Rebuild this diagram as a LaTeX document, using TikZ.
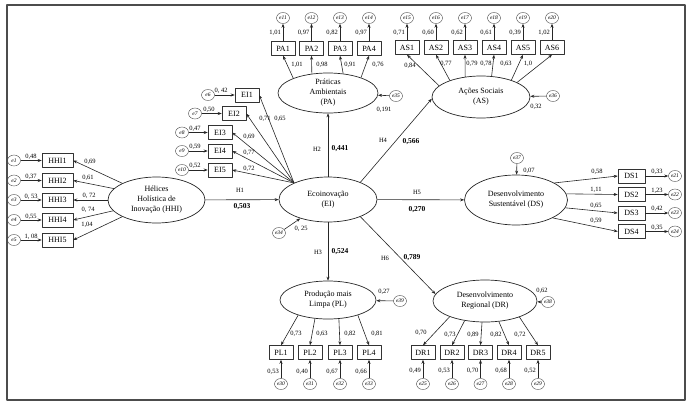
\documentclass[tikz,border=0pt]{standalone}
\usepackage{fontspec}
\setmainfont{Liberation Serif}
\usetikzlibrary{shapes.geometric,arrows.meta}
\begin{document}
\begin{tikzpicture}[x=1pt,y=-1pt, line join=round,
  ind/.style={draw=black!80, rectangle, minimum height=14pt, minimum width=24pt, inner xsep=3pt, inner ysep=0pt, font=\fontsize{8}{9}\selectfont, line width=0.5pt},
  lat/.style={draw=black!85, ellipse, inner sep=0pt, align=center, font=\fontsize{8}{10}\selectfont, line width=0.7pt},
  err/.style={draw=black!70, ellipse, minimum width=13pt, minimum height=11pt, inner sep=0pt, font=\fontsize{5.5}{6}\selectfont\itshape, line width=0.4pt},
  arr/.style={draw=black!85, -{Stealth[length=4pt,width=3pt]}, line width=0.6pt},
  lbl/.style={inner sep=0pt, font=\fontsize{6.5}{7}\selectfont},
  bl/.style={inner sep=0pt, font=\fontsize{7.5}{8}\selectfont\bfseries},
]
\useasboundingbox (0,0) rectangle (691,407);
\draw[line width=1.3pt, black!70] (7,5) rectangle (685,400);

% latent variables
\node[lat, minimum width=97pt, minimum height=46pt] (HHI) at (156.5,200) {Hélices\\Holística de\\Inovação (HHI)};
\node[lat, minimum width=98pt, minimum height=45pt] (EI) at (328,199.5) {Ecoinovação\\(EI)};
\node[lat, minimum width=100pt, minimum height=40pt] (PA) at (328,93) {Práticas\\Ambientais\\(PA)};
\node[lat, minimum width=98pt, minimum height=42pt] (AS) at (481,97) {Ações Sociais\\(AS)};
\node[lat, minimum width=103pt, minimum height=50pt] (DS) at (516,200) {Desenvolvimento\\Sustentável (DS)};
\node[lat, minimum width=96pt, minimum height=38pt] (PL) at (328,300) {Produção mais\\Limpa (PL)};
\node[lat, minimum width=104pt, minimum height=42pt] (DR) at (485,301) {Desenvolvimento\\Regional (DR)};

% HHI indicators
\foreach \i/\y/\a in {1/160.5/154,2/180.5/165,3/200/180,4/220/194,5/240/206}{
  \node[ind, minimum width=31pt] (HHI\i) at (57.5,\y) {HHI\i};
  \node[err] (e\i) at (14,\y) {e\i};
  \draw[arr] (e\i) -- (HHI\i);
  \draw[arr] (HHI.\a) -- (HHI\i.east);
}
% EI indicators
\coordinate (EIc) at (EI.154);
\foreach \i/\x/\y/\j/\ex in {1/247/95/6/208,2/234/113.5/7/195,3/220/132.5/8/182,4/220/151/9/182,5/220/170/10/182}{
  \node[ind] (EI\i) at (\x,\y) {EI\i};
  \node[err] (e\j) at (\ex,\y) {e\j};
  \draw[arr] (e\j) -- (EI\i);
  \draw[arr] (EIc) -- (EI\i.east);
}
% PA indicators
\foreach \i/\x/\a/\j in {1/283/157/11,2/311.5/130/12,3/340/52/13,4/369/25/14}{
  \node[ind] (PA\i) at (\x,48.5) {PA\i};
  \node[err] (e\j) at (\x,18) {e\j};
  \draw[arr] (PA\i) -- (e\j);
  \draw[arr] (PA.\a) -- (PA\i.south);
}
% AS indicators
\foreach \i/\x/\a/\j in {1/407/165/15,2/436/152/16,3/465/128/17,4/494/63/18,5/523/29/19,6/552/22/20}{
  \node[ind] (AS\i) at (\x,47.5) {AS\i};
  \node[err] (e\j) at (\x,18) {e\j};
  \draw[arr] (AS\i) -- (e\j);
  \draw[arr] (AS.\a) -- (AS\i.south);
}
% DS indicators
\foreach \i/\y/\a/\j in {1/176/24/21,2/194.5/7/22,3/213/351/23,4/231.5/334/24}{
  \node[ind, minimum width=27pt] (DS\i) at (631.5,\y) {DS\i};
  \node[err] (e\j) at (675,\y) {e\j};
  \draw[arr] (DS\i) -- (e\j);
  \draw[arr] (DS.\a) -- (DS\i.west);
}
% PL indicators
\foreach \i/\x/\a/\j in {1/281/207/30,2/310/235/31,3/340/300/32,4/369/333/33}{
  \node[ind] (PL\i) at (\x,352.5) {PL\i};
  \node[err] (e\j) at (\x,384) {e\j};
  \draw[arr] (e\j) -- (PL\i);
  \draw[arr] (PL.\a) -- (PL\i.north);
}
% DR indicators
\foreach \i/\x/\a/\j in {1/423/204/25,2/452/224/26,3/480.5/262/27,4/509/304/28,5/538/335/29}{
  \node[ind] (DR\i) at (\x,352.5) {DR\i};
  \node[err] (e\j) at (\x,384) {e\j};
  \draw[arr] (e\j) -- (DR\i);
  \draw[arr] (DR.\a) -- (DR\i.north);
}

% latent errors
\node[err] (e34) at (279,233) {e34};
\node[err] (e35) at (396,96) {e35};
\node[err] (e36) at (553,96) {e36};
\node[err] (e37) at (517,158) {e37};
\node[err] (e38) at (548,302) {e38};
\node[err] (e39) at (400,301) {e39};
\draw[arr] (e34) -- (EI);
\draw[arr] (e35) -- (PA);
\draw[arr] (e36) -- (AS);
\draw[arr] (e37) -- (DS);
\draw[arr] (e38) -- (DR);
\draw[arr] (e39) -- (PL);

% structural paths
\draw[arr] (HHI) -- (EI);
\draw[arr] (EI) -- (PA);
\draw[arr] (EI) -- (PL);
\draw[arr] (EI.28) -- (AS.182);
\draw[arr] (EI) -- (DS);
\draw[arr] (EI.332) -- (DR.172);

\node[lbl] (tH1) at (240,190) {H1};
\node[bl] (vH1) at (242,207) {0,503};
\node[lbl] (tH2) at (317,149) {H2};
\node[bl] (vH2) at (340,149) {0,441};
\node[lbl] (tH3) at (318,252) {H3};
\node[bl] (vH3) at (340,252) {0,524};
\node[lbl] (tH4) at (383,140) {H4};
\node[bl] (vH4) at (411,142) {0,566};
\node[lbl] (tH5) at (417,192) {H5};
\node[bl] (vH5) at (417,210) {0,270};
\node[lbl] (tH6) at (385,258) {H6};
\node[bl] (vH6) at (412,258) {0,789};

% HHI labels
\node[lbl] (la1) at (31,157) {0,48};
\node[lbl] (la2) at (31,177) {0,37};
\node[lbl] (la3) at (31,196.5) {0, 53};
\node[lbl] (la4) at (31,216.5) {0,55};
\node[lbl] (la5) at (31,236.5) {1, 08};
\node[lbl] (lb1) at (90,162) {0,69};
\node[lbl] (lb2) at (88,178) {0,61};
\node[lbl] (lb3) at (89,196) {0, 72};
\node[lbl] (lb4) at (88,209.5) {0, 74};
\node[lbl] (lb5) at (87,225) {1,04};
% EI labels
\node[lbl] (lc1) at (221,91) {0, 42};
\node[lbl] (lc2) at (209,109.5) {0,50};
\node[lbl] (lc3) at (195,128.5) {0,47};
\node[lbl] (lc4) at (195,147) {0,59};
\node[lbl] (lc5) at (195,166) {0,52};
\node[lbl] (ld1) at (265,119) {0,71};
\node[lbl] (ld2) at (280,119) {0,65};
\node[lbl] (ld3) at (249,137) {0,69};
\node[lbl] (ld4) at (249,153) {0,77};
\node[lbl] (ld5) at (249,169) {0,72};
% PA labels
\node[lbl, anchor=east] (le1) at (281,33) {1,01};
\node[lbl, anchor=east] (le2) at (309.5,33) {0,97};
\node[lbl, anchor=east] (le3) at (338,33) {0,82};
\node[lbl, anchor=east] (le4) at (367,33) {0,97};
\node[lbl] (lf1) at (297,65) {1,01};
\node[lbl] (lf2) at (322,65) {0,98};
\node[lbl] (lf3) at (350,65) {0,91};
\node[lbl] (lf4) at (378,65) {0,76};
% AS labels
\node[lbl, anchor=east] (lg1) at (405,33) {0,71};
\node[lbl, anchor=east] (lg2) at (434,33) {0,60};
\node[lbl, anchor=east] (lg3) at (463,33) {0,62};
\node[lbl, anchor=east] (lg4) at (492,33) {0,61};
\node[lbl, anchor=east] (lg5) at (521,33) {0,39};
\node[lbl, anchor=east] (lg6) at (550,33) {1,02};
\node[lbl] (lh1) at (410,66) {0,84};
\node[lbl] (lh2) at (446,64) {0,77};
\node[lbl] (lh3) at (472,64) {0,79};
\node[lbl] (lh4) at (486,64) {0,78};
\node[lbl] (lh5) at (506,64) {0,63};
\node[lbl] (lh6) at (528,64) {1,0};
% DS labels
\node[lbl] (li1) at (597,172) {0,58};
\node[lbl] (li2) at (596,190) {1,11};
\node[lbl] (li3) at (596,206) {0,65};
\node[lbl] (li4) at (596,221) {0,59};
\node[lbl] (lj1) at (657,172) {0,33};
\node[lbl] (lj2) at (657,190.5) {1,23};
\node[lbl] (lj3) at (657,209) {0,42};
\node[lbl] (lj4) at (657,227.5) {0,35};
% PL labels
\node[lbl] (lk1) at (296,334) {0,73};
\node[lbl] (lk2) at (322,334) {0,63};
\node[lbl] (lk3) at (350,334) {0,82};
\node[lbl] (lk4) at (377,334) {0,81};
\node[lbl, anchor=east] (ll1) at (279,372) {0,53};
\node[lbl, anchor=east] (ll2) at (308,372) {0,40};
\node[lbl, anchor=east] (ll3) at (338,372) {0,67};
\node[lbl, anchor=east] (ll4) at (367,372) {0,66};
% DR labels
\node[lbl] (lm1) at (421,333) {0,70};
\node[lbl] (lm2) at (450,335) {0,73};
\node[lbl] (lm3) at (473,335) {0,89};
\node[lbl] (lm4) at (496,335) {0,82};
\node[lbl] (lm5) at (520,335) {0,72};
\node[lbl, anchor=east] (ln1) at (421,371) {0,49};
\node[lbl, anchor=east] (ln2) at (450,371) {0,53};
\node[lbl, anchor=east] (ln3) at (478.5,371) {0,70};
\node[lbl, anchor=east] (ln4) at (507,371) {0,68};
\node[lbl, anchor=east] (ln5) at (536,371) {0,52};
% latent error labels
\node[lbl] (lo1) at (301,229) {0, 25};
\node[lbl] (lo2) at (384,110) {0,191};
\node[lbl] (lo3) at (536,107) {0,32};
\node[lbl] (lo4) at (529,171) {0,07};
\node[lbl] (lo5) at (542,291) {0,62};
\node[lbl] (lo6) at (384,292) {0,27};
\end{tikzpicture}
\end{document}
